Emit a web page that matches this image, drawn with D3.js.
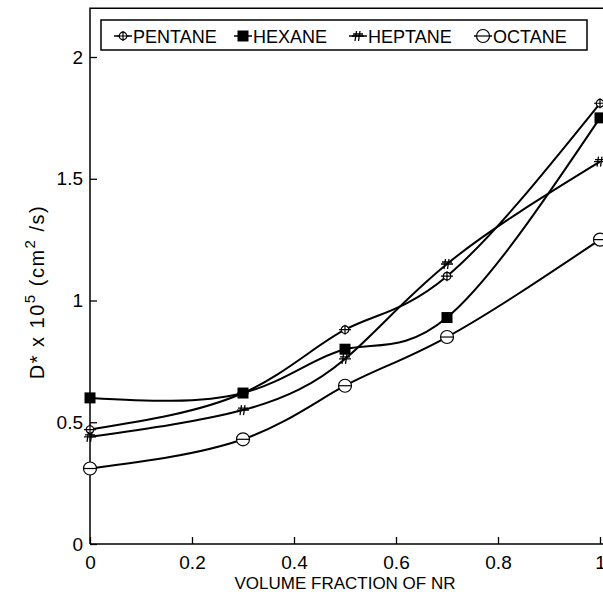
<!DOCTYPE html>
<html>
  <head>
    <title>Self-diffusion vs volume fraction of NR</title>
    <script src="https://d3js.org/d3.v7.min.js"></script>
    <style>
      body { margin: 0; background: #fff; }
      text, tspan { font-family: "Liberation Sans", Arial, sans-serif; fill: #000; }
    </style>
  </head>
  <body>
    <script>
      // Data
      const fractions = [0, 0.3, 0.5, 0.7, 1.0];
      const solvents = ["PENTANE", "HEXANE", "HEPTANE", "OCTANE"];
      const pentane = [0.47, 0.62, 0.88, 1.10, 1.81];
      const hexane = [0.60, 0.62, 0.80, 0.93, 1.75];
      const heptane = [0.44, 0.55, 0.76, 1.15, 1.57];
      const octane = [0.31, 0.43, 0.65, 0.85, 1.25];
      const xTicks = [0, 0.2, 0.4, 0.6, 0.8, 1];
      const yTicks = [0, 0.5, 1, 1.5, 2];

      const series = [pentane, hexane, heptane, octane];
      const width = 603;
      const height = 600;

      const x = d3.scaleLinear().domain([0, 1]).range([90, 600]);
      const y = d3.scaleLinear().domain([0, 2.2]).range([544, 8.3]);

      const svg = d3.select("body")
        .append("svg")
        .attr("width", width)
        .attr("height", height);

      // frame
      svg.append("path")
        .attr("d", `M${x(0)},${y(0)}H${width + 5}M${x(0)},${y(0)}V${y(2.2)}H${width + 5}`)
        .attr("fill", "none")
        .attr("stroke", "#000")
        .attr("stroke-width", 1.5);

      // axes with inward ticks
      const xAxis = svg.append("g")
        .attr("transform", `translate(0,${y(0)})`)
        .call(d3.axisBottom(x).tickValues(xTicks).tickSize(-7).tickPadding(12)
          .tickFormat(d => d === 1 ? "1" : d3.format("")(d)));
      const yAxis = svg.append("g")
        .attr("transform", `translate(${x(0)},0)`)
        .call(d3.axisLeft(y).tickValues(yTicks).tickSize(-7).tickPadding(10)
          .tickFormat(d3.format("")));
      [xAxis, yAxis].forEach(a => {
        a.select(".domain").remove();
        a.selectAll(".tick line").attr("stroke", "#000").attr("stroke-width", 1.3);
        a.selectAll(".tick text").attr("font-size", 19).attr("font-family", "Liberation Sans, Arial, sans-serif");
      });
      xAxis.selectAll(".tick text").attr("dy", "0.71em");
      yAxis.selectAll(".tick text").attr("dx", "3");

      // axis titles
      svg.append("text")
        .attr("x", 345)
        .attr("y", 589)
        .attr("text-anchor", "middle")
        .attr("font-size", 17)
        .text("VOLUME FRACTION OF NR");

      const yTitle = svg.append("text")
        .attr("transform", "translate(44,292) rotate(-90)")
        .attr("text-anchor", "middle")
        .attr("fill", "#000")
        .attr("font-size", 20)
        .attr("letter-spacing", 1.5);
      yTitle.append("tspan").attr("fill", "#000").text("D* x 10");
      yTitle.append("tspan").attr("fill", "#000").attr("dy", -9).attr("font-size", 15).text("5");
      yTitle.append("tspan").attr("fill", "#000").attr("dy", 9).text(" (cm");
      yTitle.append("tspan").attr("fill", "#000").attr("dy", -9).attr("font-size", 15).text("2");
      yTitle.append("tspan").attr("fill", "#000").attr("dy", 9).text(" /s)");

      // marker drawers
      function drawMarker(g, i) {
        if (i === 0) {
          g.append("circle").attr("r", 3.8).attr("fill", "#fff").attr("stroke", "#000").attr("stroke-width", 1.2);
          g.append("path").attr("d", "M-6,0H6M0,-5V5").attr("stroke", "#000").attr("stroke-width", 1.2);
        } else if (i === 1) {
          g.append("rect").attr("x", -5.5).attr("y", -5.5).attr("width", 11).attr("height", 11).attr("fill", "#000");
        } else if (i === 2) {
          g.append("path").attr("d", "M-1.5,-5L-3,5M2,-5L0.5,5M-6,0H6M-5,-2H5")
            .attr("stroke", "#000").attr("stroke-width", 1.3).attr("fill", "none");
        } else {
          g.append("circle").attr("r", 6.5).attr("fill", "#fff").attr("stroke", "#000").attr("stroke-width", 1.2);
          g.append("path").attr("d", "M-6.5,0H6.5").attr("stroke", "#000").attr("stroke-width", 1.2);
        }
      }

      const line = d3.line()
        .x((d, i) => x(fractions[i]))
        .y(d => y(d))
        .curve(d3.curveNatural);

      series.forEach(vals => {
        svg.append("path")
          .datum(vals)
          .attr("d", line)
          .attr("fill", "none")
          .attr("stroke", "#000")
          .attr("stroke-width", 2);
      });

      series.forEach((vals, si) => {
        vals.forEach((v, i) => {
          const g = svg.append("g").attr("transform", `translate(${x(fractions[i])},${y(v)})`);
          drawMarker(g, si);
        });
      });

      // legend
      const legend = svg.append("g");
      legend.append("rect")
        .attr("x", 101).attr("y", 20).attr("width", 486).attr("height", 30)
        .attr("fill", "#fff").attr("stroke", "#000").attr("stroke-width", 1.5);
      const legendX = [123, 243, 358, 483];
      solvents.forEach((name, i) => {
        const g = legend.append("g").attr("transform", `translate(${legendX[i]},36)`);
        g.append("path").attr("d", "M-9,0H9").attr("stroke", "#000").attr("stroke-width", 1.5);
        drawMarker(g, i);
        g.append("text").attr("x", 10).attr("y", 6.5).attr("font-size", 18).text(name);
      });
    </script>
  </body>
</html>
